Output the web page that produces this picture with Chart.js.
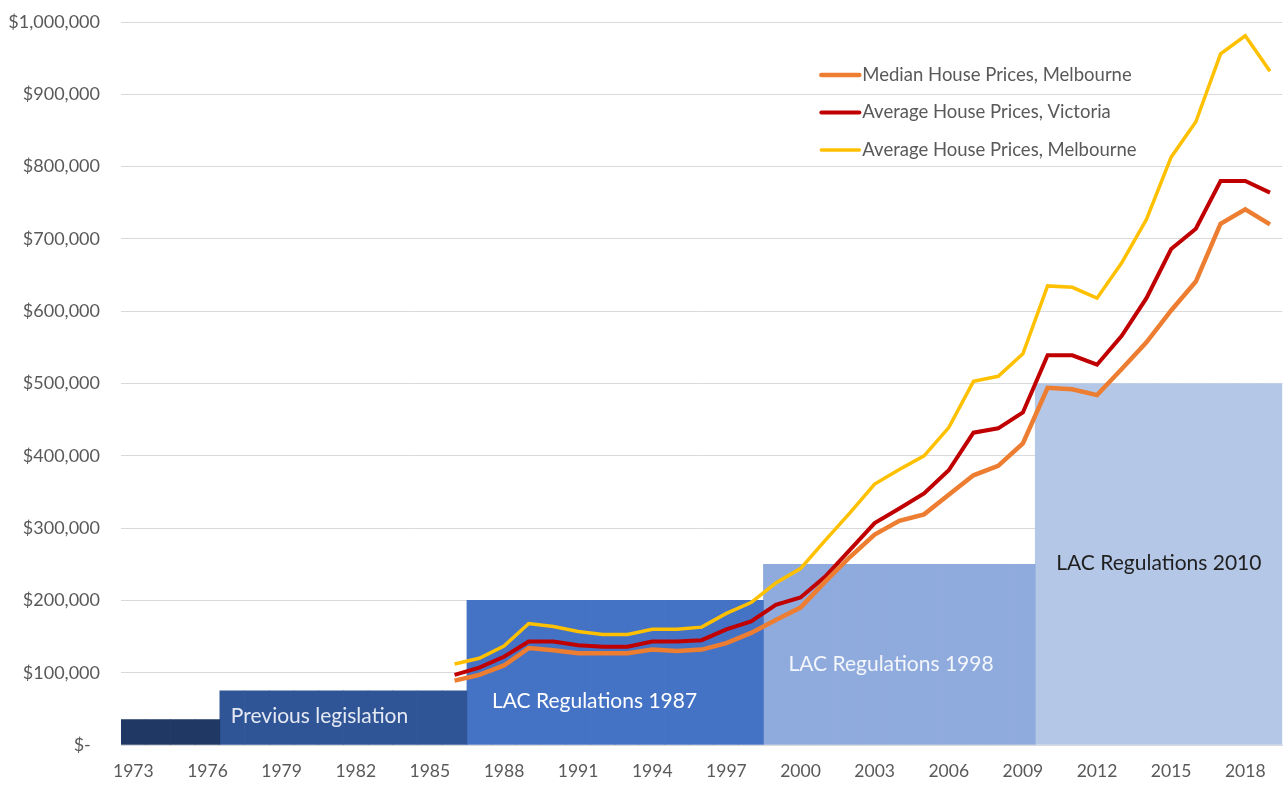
<!DOCTYPE html>
<html>
<head>
<meta charset="utf-8">
<script src="https://cdn.jsdelivr.net/npm/chart.js@4/dist/chart.umd.min.js"></script>
<style>
  html, body { margin: 0; padding: 0; background: #fff; }
  canvas { display: block; }
</style>
</head>
<body>
<canvas id="house-chart" width="1286" height="786"></canvas>
<script>
// categories
var years = [1973, 1974, 1975, 1976, 1977, 1978, 1979, 1980, 1981, 1982, 1983, 1984, 1985, 1986,
  1987, 1988, 1989, 1990, 1991, 1992, 1993, 1994, 1995, 1996, 1997, 1998, 1999, 2000, 2001, 2002,
  2003, 2004, 2005, 2006, 2007, 2008, 2009, 2010, 2011, 2012, 2013, 2014, 2015, 2016, 2017, 2018, 2019];

// house prices, 1986 - 2019
var priceStart = 1986;
var medianMelbourne = [89000, 97000, 110000, 134000, 131000, 127000, 127000, 127000, 132000, 130000, 132000, 141000, 155000,
  173000, 190000, 226000, 260000, 291000, 310000, 319000, 346000, 373000, 386000, 417000,
  494000, 492000, 484000, 520000, 557000, 601000, 641000, 721000, 741000, 720000];
var averageVictoria = [97000, 107000, 122000, 143000, 143000, 138000, 136000, 136000, 143000, 143000, 145000, 160000, 171000,
  194000, 204000, 233000, 270000, 307000, 327000, 348000, 380000, 432000, 438000, 460000,
  539000, 539000, 526000, 566000, 618000, 686000, 714000, 780000, 780000, 764000];
var averageMelbourne = [112000, 120000, 137000, 168000, 164000, 157000, 153000, 153000, 160000, 160000, 163000, 182000, 197000,
  224000, 244000, 283000, 321000, 361000, 381000, 400000, 439000, 503000, 510000, 541000,
  635000, 633000, 618000, 667000, 727000, 813000, 862000, 956000, 981000, 932000];

// regulation periods (step blocks)
var regNames = ['', 'Previous legislation', 'LAC Regulations 1987', 'LAC Regulations 1998', 'LAC Regulations 2010'];
var regFrom = [1973, 1977, 1987, 1999, 2010];
var regTo = [1976, 1986, 1998, 2009, 2019];
var regLevel = [35000, 75000, 200000, 250000, 500000];

var regColors = ['#203864', '#2F5597', '#4472C4', '#8FAADC', '#B4C7E7'];
var regTextColors = ['#fff', '#e4e9f3', '#ffffff', '#f3f6fb', '#1f1f1f'];
var FONT = 'Lato, "Open Sans", sans-serif';

function padPrices(arr) {
  return years.map(function (y) {
    var i = y - priceStart;
    return i >= 0 && i < arr.length ? arr[i] : null;
  });
}

var datasets = [];
datasets.push({ type: 'line', label: 'Median House Prices, Melbourne', data: padPrices(medianMelbourne),
  borderColor: '#ED7D31', borderWidth: 4.5, pointRadius: 0, pointHoverRadius: 0, tension: 0, order: 1 });
datasets.push({ type: 'line', label: 'Average House Prices, Victoria', data: padPrices(averageVictoria),
  borderColor: '#C00000', borderWidth: 4, pointRadius: 0, pointHoverRadius: 0, tension: 0, order: 2 });
datasets.push({ type: 'line', label: 'Average House Prices, Melbourne', data: padPrices(averageMelbourne),
  borderColor: '#FFC000', borderWidth: 3.5, pointRadius: 0, pointHoverRadius: 0, tension: 0, order: 3 });

regNames.forEach(function (name, r) {
  datasets.push({
    type: 'bar',
    label: name,
    data: years.map(function (y) { return (y >= regFrom[r] && y <= regTo[r]) ? regLevel[r] : null; }),
    backgroundColor: regColors[r],
    borderWidth: 0,
    grouped: false,
    categoryPercentage: 1,
    barPercentage: 1,
    order: 10
  });
});

// text inside the blocks + legend in the top right
var labelPos = [null, { dx: 11, v: 40000 }, { dx: 25, v: 61000 }, { dx: 25, v: 112000 }, { dx: 21, v: 252000 }];

var overlayPlugin = {
  id: 'overlay',
  afterDatasetsDraw: function (chart) {
    var ctx = chart.ctx, xs = chart.scales.x, ys = chart.scales.y;
    var half = (xs.getPixelForValue(1) - xs.getPixelForValue(0)) / 2;
    ctx.save();
    ctx.font = '21px ' + FONT;
    ctx.textBaseline = 'middle';
    ctx.textAlign = 'left';
    regNames.forEach(function (name, r) {
      if (!name) return;
      var x0 = xs.getPixelForValue(years.indexOf(regFrom[r])) - half;
      ctx.fillStyle = regTextColors[r];
      ctx.fillText(name, x0 + labelPos[r].dx, ys.getPixelForValue(labelPos[r].v));
    });

    var area = chart.chartArea;
    var lx = area.right - 461, ly = area.top + 53;
    ctx.font = '18.5px ' + FONT;
    for (var i = 0; i < 3; i++) {
      var ds = chart.data.datasets[i];
      var yy = ly + i * 37.5;
      ctx.strokeStyle = ds.borderColor;
      ctx.lineWidth = ds.borderWidth;
      ctx.lineCap = 'round';
      ctx.beginPath();
      ctx.moveTo(lx, yy);
      ctx.lineTo(lx + 38, yy);
      ctx.stroke();
      ctx.fillStyle = '#595959';
      ctx.fillText(ds.label, lx + 41, yy);
    }
    ctx.restore();
  }
};

var houseChart = new Chart(document.getElementById('house-chart'), {
  type: 'bar',
  data: { labels: years, datasets: datasets },
  options: {
    responsive: false,
    animation: false,
    layout: { padding: { top: 22, right: 2, bottom: 0, left: 0 } },
    plugins: {
      legend: { display: false },
      tooltip: { enabled: false }
    },
    scales: {
      x: {
        offset: true,
        grid: { display: false, drawTicks: false },
        border: { color: '#d9d9d9' },
        ticks: {
          autoSkip: false, maxRotation: 0, color: '#595959', padding: 16,
          font: { family: FONT, size: 17.5 },
          callback: function (val, idx) { return idx % 3 === 0 ? this.getLabelForValue(val) : ''; }
        },
        afterFit: function (scale) { scale.height = 41; }
      },
      y: {
        min: 0, max: 1000000,
        grid: { color: '#d9d9d9', drawTicks: false },
        border: { display: false },
        ticks: {
          stepSize: 100000, color: '#595959', padding: 21,
          font: { family: FONT, size: 18 },
          callback: function (v) { return v === 0 ? '$-  ' : '$' + v.toLocaleString('en-US'); }
        },
        afterFit: function (scale) {
          scale.width = 121;
          scale.paddingTop = 0;
          scale.paddingBottom = 0;
        }
      }
    }
  },
  plugins: [overlayPlugin]
});
</script>
</body>
</html>
